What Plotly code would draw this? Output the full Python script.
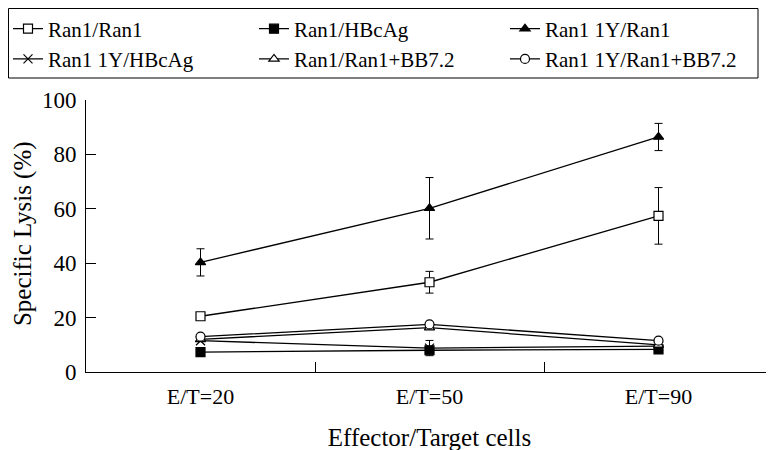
import plotly.graph_objects as go

categories = ["E/T=20", "E/T=50", "E/T=90"]

ran1_ran1 = [20.5, 33.0, 57.4]
ran1_ran1_err = [0, 4.0, 10.4]
ran1_hbcag = [7.3, 8.0, 8.3]
ran1_1y_ran1 = [40.3, 60.2, 86.4]
ran1_1y_ran1_err = [5.0, 11.3, 5.0]
ran1_1y_hbcag = [11.5, 8.8, 9.5]
ran1_1y_hbcag_err = [0, 2.8, 0]
ran1_ran1_bb = [12.0, 16.3, 10.0]
ran1_1y_ran1_bb = [13.0, 17.5, 11.5]

FONT = "Times New Roman"

# name, values, errors, symbol, fill, legend column
series = [
    ("Ran1/Ran1", ran1_ran1, ran1_ran1_err, "square", "white", "legend"),
    ("Ran1/HBcAg", ran1_hbcag, None, "square", "black", "legend2"),
    ("Ran1 1Y/Ran1", ran1_1y_ran1, ran1_1y_ran1_err, "triangle-up", "black", "legend3"),
    ("Ran1 1Y/HBcAg", ran1_1y_hbcag, ran1_1y_hbcag_err, "x-thin-open", "black", "legend"),
    ("Ran1/Ran1+BB7.2", ran1_ran1_bb, None, "triangle-up", "white", "legend2"),
    ("Ran1 1Y/Ran1+BB7.2", ran1_1y_ran1_bb, None, "circle", "white", "legend3"),
]

fig = go.Figure()
for name, vals, err, sym, fill, lg in series:
    kw = {}
    if err is not None:
        kw["error_y"] = dict(type="data", array=err, visible=True,
                             color="black", thickness=1, width=4)
    fig.add_trace(go.Scatter(
        x=categories, y=vals, name=name, mode="lines+markers", legend=lg,
        line=dict(color="black", width=1.3),
        marker=dict(symbol=sym, size=9, color=fill,
                    line=dict(color="black", width=1.2)),
        **kw))

def leg(xpx):
    return dict(orientation="v", x=xpx / 774, y=1 - 0.5 / 450,
                xref="container", yref="container",
                xanchor="left", yanchor="top",
                bgcolor="rgba(0,0,0,0)", borderwidth=0,
                font=dict(family=FONT, size=21, color="black"),
                itemwidth=30, tracegroupgap=0, traceorder="normal")

PW, PH = 687, 272  # plot area size in px
ML, MT, MB = 78, 92, 86

fig.update_layout(
    width=774, height=450,
    margin=dict(l=ML, r=774 - ML - PW, t=MT, b=MB, autoexpand=False),
    paper_bgcolor="white", plot_bgcolor="white",
    font=dict(family=FONT, size=22, color="black"),
    showlegend=True,
    legend=leg(0), legend2=leg(246), legend3=leg(497),
    shapes=[dict(type="rect", xref="paper", yref="paper",
                 x0=(0.5 - ML) / PW, x1=(750 - ML) / PW,
                 y0=(MT + PH - 70) / PH, y1=(MT + PH - 0.5) / PH,
                 line=dict(color="black", width=1), fillcolor="rgba(0,0,0,0)")],
    annotations=[dict(text="Specific Lysis (%)", textangle=-90,
                      xref="paper", yref="paper",
                      x=(15 - ML) / PW, y=0.507, xanchor="center", yanchor="middle",
                      showarrow=False, font=dict(family=FONT, size=25, color="black"))],
)
fig.update_xaxes(
    type="category", showline=True, linecolor="black", linewidth=1,
    ticks="inside", tickson="boundaries", ticklen=10, tickcolor="black",
    showgrid=False, zeroline=False, range=[-0.5, 2.5],
    tickfont=dict(family=FONT, size=22), ticklabelstandoff=5,
    title=dict(text="Effector/Target cells", font=dict(family=FONT, size=25), standoff=20),
)
fig.update_yaxes(
    range=[0, 100], dtick=20, showline=True, linecolor="black", linewidth=1,
    ticks="inside", ticklen=10, tickcolor="black", showgrid=False, zeroline=False,
    tickfont=dict(family=FONT, size=23), ticklabelstandoff=4,
)

fig.write_html("out.html")
